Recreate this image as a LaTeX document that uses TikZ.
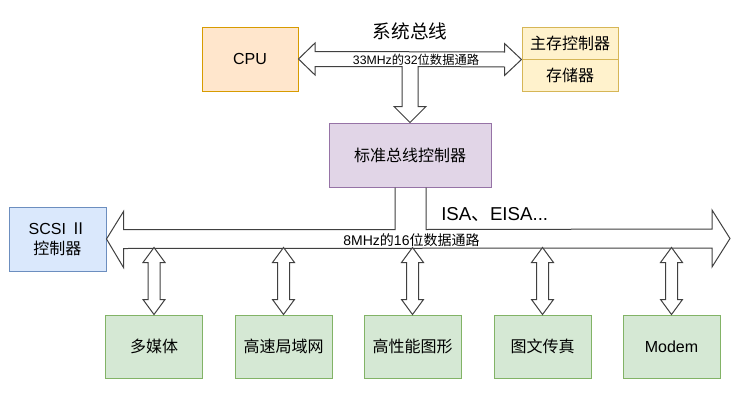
\documentclass[tikz,border=0pt]{standalone}
\usepackage{fontspec}
\setmainfont{Liberation Sans}
\newfontfamily\cjk{Noto Sans CJK SC}
\newcommand{\zh}[1]{{\cjk #1}}
\usetikzlibrary{calc}
\definecolor{orgF}{HTML}{FFE6CC}\definecolor{orgD}{HTML}{D79B00}
\definecolor{ylwF}{HTML}{FFF2CC}\definecolor{ylwD}{HTML}{D6B656}
\definecolor{purF}{HTML}{E1D5E7}\definecolor{purD}{HTML}{9673A6}
\definecolor{bluF}{HTML}{DAE8FC}\definecolor{bluD}{HTML}{6C8EBF}
\definecolor{grnF}{HTML}{D5E8D4}\definecolor{grnD}{HTML}{82B366}
\tikzset{
  box/.style={draw, line width=0.75pt, inner sep=0pt, align=center, font=\fontsize{12}{15}\selectfont},
  flowline/.style={draw=black!75, line width=0.75pt, fill=white, line join=miter},
  vdarrow/.pic={\path[flowline] (0,0) -- (11,-15) -- (6,-15) -- (6,-52) -- (11,-52) -- (0,-67) -- (-11,-52) -- (-6,-52) -- (-6,-15) -- (-11,-15) -- cycle;}
}
\begin{document}
\begin{tikzpicture}[x=0.75pt,y=-0.75pt]
\useasboundingbox[fill=white] (0,0) rectangle (750,400);
% boxes
\node[box, fill=orgF, draw=orgD, minimum width=72pt, minimum height=48pt] (cpu) at (250,59) {CPU};
\node[box, fill=ylwF, draw=ylwD, minimum width=72pt, minimum height=24pt] (mc) at (570,43) {\zh{主存控制器}};
\node[box, fill=ylwF, draw=ylwD, minimum width=72pt, minimum height=24pt] (mem) at (570,75) {\zh{存储器}};
\node[box, fill=purF, draw=purD, minimum width=121.5pt, minimum height=48pt] (ctrl) at (410,155) {\zh{标准总线控制器}};
\node[box, fill=bluF, draw=bluD, minimum width=72.75pt, minimum height=48pt] (scsi) at (57.5,239) {SCSI \zh{Ⅱ}\\\zh{控制器}};
\node[box, fill=grnF, draw=grnD, minimum width=72.75pt, minimum height=47.25pt] (d1) at (154,346.5) {\zh{多媒体}};
\node[box, fill=grnF, draw=grnD, minimum width=72.75pt, minimum height=47.25pt] (d2) at (283.5,346.5) {\zh{高速局域网}};
\node[box, fill=grnF, draw=grnD, minimum width=72.75pt, minimum height=47.25pt] (d3) at (412.5,346.5) {\zh{高性能图形}};
\node[box, fill=grnF, draw=grnD, minimum width=72.75pt, minimum height=47.25pt] (d4) at (542.5,346.5) {\zh{图文传真}};
\node[box, fill=grnF, draw=grnD, minimum width=72.75pt, minimum height=47.25pt] (d5) at (671.5,346.5) {Modem};
% system bus (top)
\coordinate (tl) at (cpu.east);
\coordinate (tr) at (mc.south west);
\coordinate (tv) at (ctrl.north);
\path[flowline] (tl) -- ++(16.5,-16) -- ++(0,8.5) -- ($(tr)+(-17,-7.5)$) -- ++(0,-8.5) -- (tr)
  -- ++(-17,16) -- ++(0,-8.5) -- ($(tv)+(8,-56)$) -- ($(tv)+(8,-16)$) -- ++(8,0) -- (tv)
  -- ++(-16,-16) -- ++(8,0) -- ($(tv)+(-8,-56)$) -- ($(tl)+(16.5,7.5)$) -- ++(0,8.5) -- cycle;
\node[font=\fontsize{14}{16}\selectfont] (ttl) at (410,31) {\zh{系统总线}};
\node[font=\fontsize{9.2}{11}\selectfont, inner sep=0pt] (tlab) at (416,60) {33MHz\zh{的}32\zh{位数据通路}};
% ISA bus (lower)
\coordinate (bl) at (scsi.east);
\coordinate (br) at (730,238.5);
\path[flowline, fill=none] ($(ctrl.south)+(-15,0)$) -- ($(ctrl.south)+(-15,42)$) -- ($(bl)+(17,-9.5)$) -- ++(0,-18) -- (bl)
  -- ++(17,28.5) -- ++(0,-19) -- ($(br)+(-18,9.5)$) -- ++(0,19) -- (br) -- ++(-18,-28.5) -- ++(0,19)
  -- ($(ctrl.south)+(16,42)$) -- ($(ctrl.south)+(16,0)$);
\node[font=\fontsize{14}{16}\selectfont, anchor=west, inner sep=0pt] (isa) at (441,215) {ISA\zh{、}EISA...};
\node[font=\fontsize{10.5}{12}\selectfont, inner sep=0pt] (blab) at (411.5,240) {8MHz\zh{的}16\zh{位数据通路}};
% device arrows
\foreach \d in {d1,d2,d3,d4,d5} {\pic at (\d.north) {vdarrow};}
\end{tikzpicture}
\end{document}
